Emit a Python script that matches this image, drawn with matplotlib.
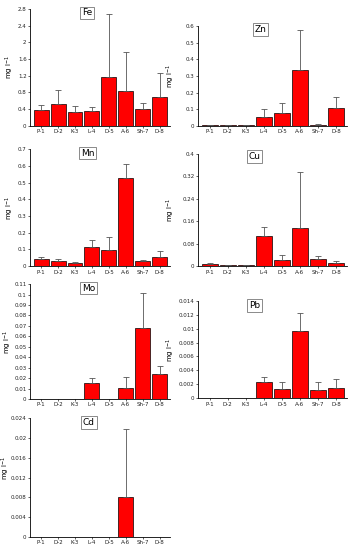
import numpy as np
import matplotlib
matplotlib.use('Agg')
import matplotlib.pyplot as plt

sites = ['P-1', 'D-2', 'K-3', 'L-4', 'D-5', 'A-6', 'Sh-7', 'D-8']

fe = [0.37, 0.52, 0.33, 0.35, 1.18, 0.83, 0.40, 0.68]
fe_top = [0.50, 0.87, 0.48, 0.45, 2.68, 1.76, 0.56, 1.26]
zn = [0.003, 0.003, 0.005, 0.052, 0.075, 0.333, 0.007, 0.107]
zn_top = [0.004, 0.004, 0.006, 0.103, 0.138, 0.578, 0.010, 0.175]
mn = [0.042, 0.030, 0.022, 0.115, 0.095, 0.527, 0.033, 0.055]
mn_top = [0.055, 0.043, 0.027, 0.155, 0.172, 0.610, 0.040, 0.092]
cu = [0.008, 0.005, 0.004, 0.108, 0.022, 0.137, 0.026, 0.010]
cu_top = [0.012, 0.006, 0.005, 0.140, 0.041, 0.336, 0.036, 0.017]
mo = [0, 0, 0, 0.015, 0, 0.011, 0.068, 0.024]
mo_top = [0, 0, 0, 0.020, 0, 0.021, 0.101, 0.032]
pb = [0, 0, 0, 0.0023, 0.0013, 0.0096, 0.0012, 0.0014]
pb_top = [0, 0, 0, 0.0030, 0.0024, 0.0122, 0.0023, 0.0027]
cd = [0, 0, 0, 0, 0, 0.008, 0, 0]
cd_top = [0, 0, 0, 0, 0, 0.0218, 0, 0]

fe_ticks = ['0', '0.4', '0.8', '1.2', '1.6', '2', '2.4', '2.8']
zn_ticks = ['0', '0.1', '0.2', '0.3', '0.4', '0.5', '0.6']
mn_ticks = ['0', '0.1', '0.2', '0.3', '0.4', '0.5', '0.6', '0.7']
cu_ticks = ['0', '0.08', '0.16', '0.24', '0.32', '0.4']
mo_ticks = ['0', '0.01', '0.02', '0.03', '0.04', '0.05', '0.06', '0.07', '0.08', '0.09', '0.1', '0.11']
pb_ticks = ['0', '0.002', '0.004', '0.006', '0.008', '0.01', '0.012', '0.014']
cd_ticks = ['0', '0.004', '0.008', '0.012', '0.016', '0.02', '0.024']

fig = plt.figure(figsize=(3.54, 5.5), dpi=100)

# name, values, error tops, y tick labels, axes rect, title box pos, ylabel pos
panels = [
    ('Fe', fe, fe_top, fe_ticks, [0.085, 0.771, 0.395, 0.213], (0.41, 0.965), (-0.10, 0.5)),
    ('Zn', zn, zn_top, zn_ticks, [0.559, 0.771, 0.421, 0.182], (0.42, 0.965), (-0.14, 0.5)),
    ('Mn', mn, mn_top, mn_ticks, [0.085, 0.516, 0.395, 0.213], (0.41, 0.965), (-0.10, 0.5)),
    ('Cu', cu, cu_top, cu_ticks, [0.559, 0.516, 0.421, 0.204], (0.38, 0.975), (-0.14, 0.5)),
    ('Mo', mo, mo_top, mo_ticks, [0.085, 0.2745, 0.395, 0.209], (0.42, 0.965), (-0.115, 0.5)),
    ('Pb', pb, pb_top, pb_ticks, [0.559, 0.276, 0.421, 0.177], (0.38, 0.95), (-0.14, 0.5)),
    ('Cd', cd, cd_top, cd_ticks, [0.085, 0.0236, 0.395, 0.216], (0.42, 0.965), (-0.128, 0.585)),
]

for name, vals, tops, ticks, rect, tpos, lpos in panels:
    ax = fig.add_axes(rect)
    x = np.arange(len(sites))
    vals = np.array(vals)
    up = np.array(tops) - vals
    ax.bar(x, vals, width=0.88, color='#ff0000', edgecolor='black', linewidth=0.5)
    mask = up > 0
    ax.errorbar(x[mask], vals[mask], yerr=[np.zeros(mask.sum()), up[mask]],
                fmt='none', ecolor='#555555', elinewidth=0.6, capsize=2, capthick=0.6)
    yt = [float(t) for t in ticks]
    ax.set_ylim(0, yt[-1])
    ax.set_yticks(yt)
    ax.set_yticklabels(ticks)
    ax.set_xlim(-0.65, 7.6)
    ax.set_xticks(x)
    ax.set_xticklabels(sites)
    ax.tick_params(labelsize=4.0, length=1.5, width=0.5, pad=1, colors='#222222')
    for s in ['top', 'right']:
        ax.spines[s].set_visible(False)
    for s in ['left', 'bottom']:
        ax.spines[s].set_linewidth(0.6)
    ax.set_ylabel('mg l$^{-1}$', fontsize=5.0)
    ax.yaxis.set_label_coords(*lpos)
    ax.text(tpos[0], tpos[1], name, transform=ax.transAxes, fontsize=6.5,
            ha='center', va='center',
            bbox=dict(boxstyle='square,pad=0.2', facecolor='white', edgecolor='#777777', linewidth=0.6))

fig.savefig('out.png', dpi=100)
